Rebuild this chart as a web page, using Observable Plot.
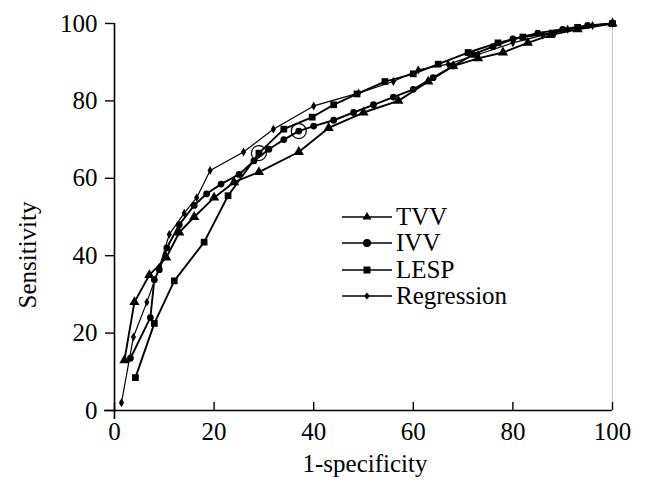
<!DOCTYPE html>
<html><head><meta charset="utf-8">
<script src="https://cdn.jsdelivr.net/npm/d3@7"></script>
<script src="https://cdn.jsdelivr.net/npm/@observablehq/plot@0.6"></script>
<style>
body{margin:0;background:#fff;}
#wrap{position:relative;width:645px;height:485px;font-family:"Liberation Serif","Times New Roman",serif;color:#000;}
#legend{position:absolute;left:342px;top:204px;font-size:25px;}
.row{display:flex;align-items:center;height:26.3px;}
.row svg{margin-right:4px;}
.lab{position:absolute;font-size:25px;white-space:nowrap;line-height:1;}
#ylab{left:27px;top:255px;transform:translate(-50%,-50%) rotate(-90deg);}
#xlab{left:365px;top:463px;transform:translate(-50%,-50%);}
</style></head><body><div id="wrap"></div>
<script>
// 1-specificity (x) and sensitivity (y), in %
const tvvX = [2, 4, 7, 10.4, 13, 16, 20, 24, 29, 37, 43, 50, 57, 63, 68, 73, 78, 83, 87.5, 93, 100];
const tvvY = [13, 28, 35, 39.5, 46, 50, 55, 59, 61.6, 66.8, 73, 77, 80, 85, 89, 91, 92.5, 95, 97, 98.5, 100];

const ivvX = [3.2, 7.2, 8, 9, 10.5, 13, 16, 18.5, 21.4, 25, 28, 31, 34, 37, 40, 44, 48, 52, 56, 60, 64, 68, 72, 76, 80, 85, 90, 95, 100];
const ivvY = [13.5, 24, 33.8, 36.4, 42, 48, 53, 56, 58.5, 61, 64.5, 67.5, 70, 72.2, 73.5, 75, 77, 79, 81, 83, 86, 89, 92, 94, 96, 97.5, 98.5, 99.5, 100];

const lespX = [4.2, 8, 12, 18, 22.8, 29, 34, 39.7, 44, 48.7, 54.3, 60, 65, 71, 77, 82, 88, 93, 100];
const lespY = [8.5, 22.5, 33.5, 43.5, 55.5, 66.5, 72.7, 75.8, 79, 81.8, 85, 87, 89.5, 92.5, 95, 96.5, 97.5, 99, 100];

const regX = [1.4, 3.8, 6.5, 9, 11, 14, 16.5, 19.2, 25.9, 31.9, 40, 49, 56, 61, 67, 73, 80, 86, 91, 96, 100];
const regY = [2, 19, 28, 37, 45.5, 51, 55, 62, 66.8, 72.7, 78.7, 82, 85, 88, 89.5, 92, 95, 97, 98.5, 99.5, 100];

// optimal cut-off points (LESP, IVV)
const cutX = [29, 37];
const cutY = [66.5, 72.2];

const xTicks = [0, 20, 40, 60, 80, 100];
const yTicks = [0, 20, 40, 60, 80, 100];
const xLabel = "1-specificity";
const yLabel = "Sensitivity";

const series = [
  {name: "TVV", symbol: "triangle", r: 3.8, sw: 1.9, xs: tvvX, ys: tvvY},
  {name: "IVV", symbol: "circle", r: 3.4, sw: 1.9, xs: ivvX, ys: ivvY},
  {name: "LESP", symbol: "square", r: 3.8, sw: 1.9, xs: lespX, ys: lespY},
  {name: "Regression", symbol: "diamond", r: 2.7, sw: 1.2, xs: regX, ys: regY}
];
const pts = s => s.xs.map((x, i) => ({x, y: s.ys[i], series: s.name}));
const cuts = cutX.map((x, i) => ({x, y: cutY[i]}));

const marks = [];
series.forEach(s => {
  marks.push(Plot.line(pts(s), {x: "x", y: "y", stroke: "#000", strokeWidth: s.sw}));
  marks.push(Plot.dot(pts(s), {x: "x", y: "y", symbol: () => s.symbol, r: s.r, fill: "#000", stroke: "none"}));
});
marks.push(Plot.dot(cuts, {x: "x", y: "y", r: 7.5, stroke: "#000", strokeWidth: 1.2, fill: "none"}));

const plot = Plot.plot({
  width: 645,
  height: 485,
  marginLeft: 114,
  marginRight: 33,
  marginTop: 23,
  marginBottom: 75,
  style: {fontFamily: "'Liberation Serif','Times New Roman',serif", fontSize: "25px", color: "#000", background: "#fff"},
  x: {domain: [0, 100]},
  y: {domain: [0, 100]},
  marks: [
    Plot.ruleX([100], {stroke: "#c8c8c8", strokeWidth: 1}),
    Plot.ruleX([0], {stroke: "#000", strokeWidth: 1.6, insetBottom: -9}),
    Plot.ruleY([0], {stroke: "#000", strokeWidth: 1.6, insetLeft: -10}),
    Plot.axisY({ticks: yTicks, tickSize: 9, tickPadding: 8, strokeWidth: 1.4, label: null, fontSize: 25}),
    Plot.axisX({ticks: xTicks, tickSize: -8, tickPadding: 20, strokeWidth: 1.4, label: null, fontSize: 25}),
    ...marks
  ]
});

const wrap = document.getElementById("wrap");
wrap.appendChild(plot);

const yl = document.createElement("div"); yl.className = "lab"; yl.id = "ylab"; yl.textContent = yLabel; wrap.appendChild(yl);
const xl = document.createElement("div"); xl.className = "lab"; xl.id = "xlab"; xl.textContent = xLabel; wrap.appendChild(xl);

// legend
const legend = document.createElement("div");
legend.id = "legend";
const symPath = {
  triangle: '<path d="M25,5 L29.5,12.5 L20.5,12.5 Z" fill="#000"/>',
  circle: '<circle cx="25" cy="10" r="4" fill="#000"/>',
  square: '<rect x="21.5" y="6.5" width="7" height="7" fill="#000"/>',
  diamond: '<path d="M25,6.5 L28,10 L25,13.5 L22,10 Z" fill="#000"/>'
};
series.forEach(s => {
  const row = document.createElement("div");
  row.className = "row";
  row.innerHTML = `<svg width="50" height="20"><line x1="0" x2="50" y1="10" y2="10" stroke="#000" stroke-width="1.6"/>${symPath[s.symbol]}</svg><span>${s.name}</span>`;
  legend.appendChild(row);
});
wrap.appendChild(legend);
</script>
</body></html>
